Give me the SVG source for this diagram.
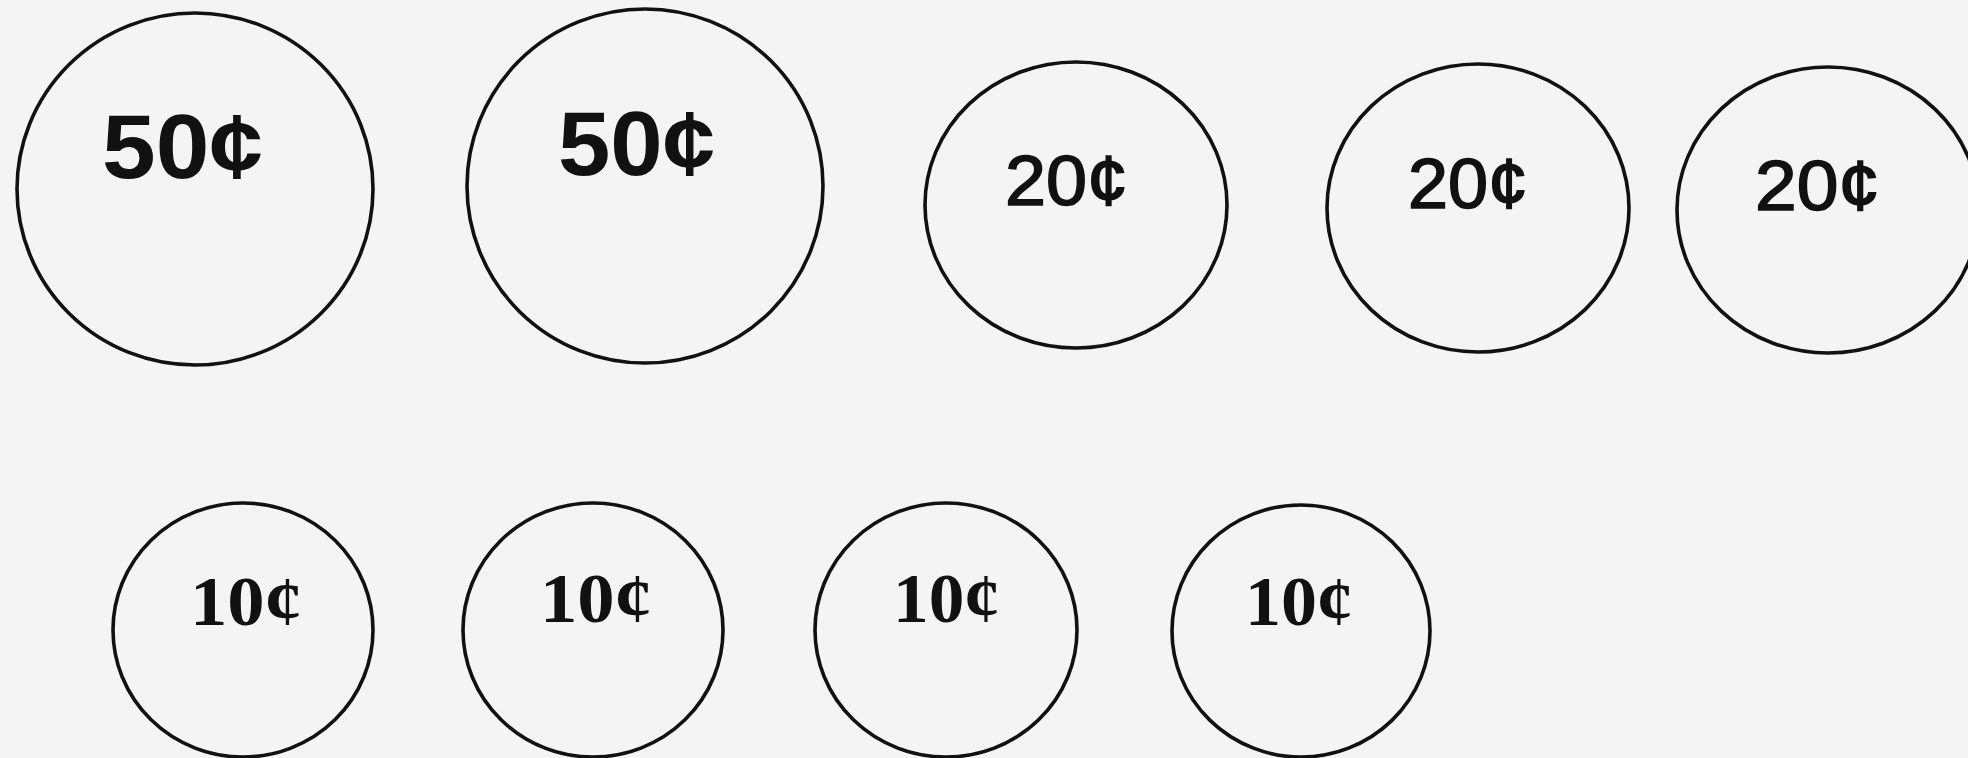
<svg xmlns="http://www.w3.org/2000/svg" width="1968" height="758" viewBox="0 0 1968 758">
<style>
.coin{fill:none;stroke:#111;stroke-width:3.6}
.t50{font-family:"Liberation Sans",Arial,sans-serif;font-weight:bold;font-size:90px;fill:#111}
.t20{font-family:"Liberation Sans",Arial,sans-serif;font-size:70px;fill:#111;stroke:#111;stroke-width:1.6}
.t10{font-family:"Liberation Serif","Times New Roman",serif;font-weight:bold;font-size:70px;fill:#111}
</style>
<rect width="1968" height="758" fill="#f4f4f4"/>
<g id="coin50a"><ellipse class="coin" cx="195" cy="189" rx="178" ry="176"/><text class="t50" x="102" y="178" textLength="161" lengthAdjust="spacingAndGlyphs">50¢</text></g>
<g id="coin50b"><ellipse class="coin" cx="645" cy="186" rx="178" ry="177"/><text class="t50" x="558" y="175" textLength="157" lengthAdjust="spacingAndGlyphs">50¢</text></g>
<g id="coin20a"><ellipse class="coin" cx="1076" cy="205" rx="151" ry="143"/><text class="t20" x="1005" y="205" textLength="123" lengthAdjust="spacingAndGlyphs">20¢</text></g>
<g id="coin20b"><ellipse class="coin" cx="1478" cy="208" rx="151" ry="144"/><text class="t20" x="1408" y="208" textLength="120" lengthAdjust="spacingAndGlyphs">20¢</text></g>
<g id="coin20c"><ellipse class="coin" cx="1828" cy="210" rx="151" ry="143"/><text class="t20" x="1755" y="210" textLength="125" lengthAdjust="spacingAndGlyphs">20¢</text></g>
<g id="coin10a"><ellipse class="coin" cx="243" cy="630" rx="130" ry="127"/><text class="t10" x="190" y="625" textLength="112" lengthAdjust="spacingAndGlyphs">10¢</text></g>
<g id="coin10b"><ellipse class="coin" cx="593" cy="630" rx="130" ry="127"/><text class="t10" x="540" y="622" textLength="112" lengthAdjust="spacingAndGlyphs">10¢</text></g>
<g id="coin10c"><ellipse class="coin" cx="946" cy="630" rx="131" ry="127"/><text class="t10" x="893" y="622" textLength="107" lengthAdjust="spacingAndGlyphs">10¢</text></g>
<g id="coin10d"><ellipse class="coin" cx="1301" cy="631" rx="129" ry="126"/><text class="t10" x="1245" y="625" textLength="108" lengthAdjust="spacingAndGlyphs">10¢</text></g>
<g id="connectors"></g>
</svg>
